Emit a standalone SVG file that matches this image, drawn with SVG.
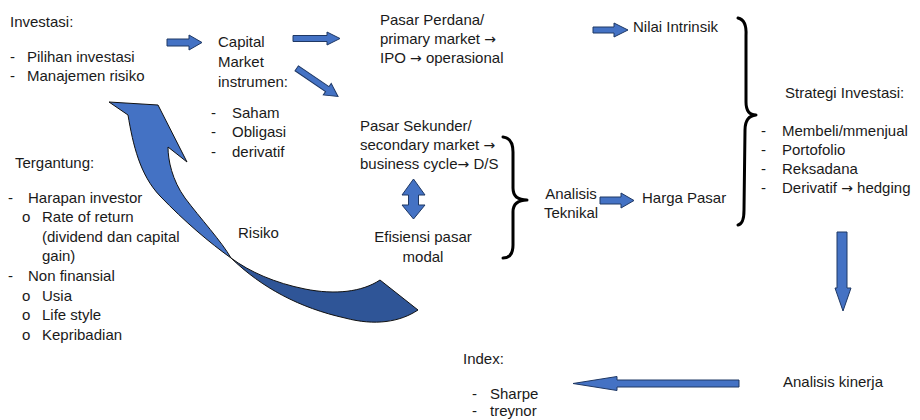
<svg xmlns="http://www.w3.org/2000/svg" width="920" height="420" viewBox="0 0 920 420">
<style>
text{font-family:"Liberation Sans",Arial,sans-serif;font-size:15px;fill:#1a1a1a}
.ar{font-family:"DejaVu Sans",sans-serif;font-size:14px}
.mid{text-anchor:middle}
.blk{fill:#4472C4;stroke:#1F3864;stroke-width:1;stroke-linejoin:miter}
.dark{fill:#2F5597;stroke:#111;stroke-width:1}
.light{fill:#4472C4;stroke:#111;stroke-width:1}
.brace{fill:none;stroke:#000;stroke-width:3;stroke-linecap:round;stroke-linejoin:round}
</style>
<rect width="920" height="420" fill="#fff"/>
<g id="investasi">
<text x="10" y="27">Investasi:</text>
<text x="10" y="62">-</text><text x="27" y="62">Pilihan investasi</text>
<text x="10" y="81">-</text><text x="27" y="81">Manajemen risiko</text>
</g>
<g id="capital-market">
<text x="218" y="47">Capital</text>
<text x="218" y="67">Market</text>
<text x="218" y="87">instrumen:</text>
</g>
<g id="instrumen-list">
<text x="211" y="118">-</text><text x="232" y="118">Saham</text>
<text x="211" y="137">-</text><text x="232" y="137">Obligasi</text>
<text x="211" y="156.5">-</text><text x="232" y="156.5">derivatif</text>
</g>
<g id="pasar-perdana">
<text x="380" y="25">Pasar Perdana/</text>
<text x="380" y="44">primary market <tspan class="ar">→</tspan></text>
<text x="380" y="63">IPO <tspan class="ar">→</tspan> operasional</text>
</g>
<g id="pasar-sekunder">
<text x="360" y="131">Pasar Sekunder/</text>
<text x="360" y="150">secondary market <tspan class="ar">→</tspan></text>
<text x="360" y="169">business cycle<tspan class="ar">→</tspan> D/S</text>
</g>
<g id="efisiensi">
<text class="mid" x="423" y="242">Efisiensi pasar</text>
<text class="mid" x="423" y="261.5">modal</text>
</g>
<g id="analisis-teknikal">
<text class="mid" x="571" y="199">Analisis</text>
<text class="mid" x="571" y="218">Teknikal</text>
</g>
<g id="nilai-intrinsik"><text x="633" y="32">Nilai Intrinsik</text></g>
<g id="harga-pasar"><text x="642" y="203">Harga Pasar</text></g>
<g id="strategi">
<text x="785" y="98">Strategi Investasi:</text>
<text x="761" y="136">-</text><text x="782" y="136">Membeli/mmenjual</text>
<text x="761" y="155">-</text><text x="782" y="155">Portofolio</text>
<text x="761" y="174">-</text><text x="782" y="174">Reksadana</text>
<text x="761" y="193">-</text><text x="782" y="193">Derivatif <tspan class="ar">→</tspan> hedging</text>
</g>
<g id="tergantung">
<text x="15" y="168">Tergantung:</text>
<text x="8" y="202.5">-</text><text x="28" y="202.5">Harapan investor</text>
<text x="22" y="222">o</text><text x="42" y="222">Rate of return</text>
<text x="42" y="242">(dividend dan capital</text>
<text x="42" y="261">gain)</text>
<text x="8" y="281">-</text><text x="28" y="281">Non finansial</text>
<text x="22" y="300.5">o</text><text x="42" y="300.5">Usia</text>
<text x="22" y="320">o</text><text x="42" y="320">Life style</text>
<text x="22" y="339.5">o</text><text x="42" y="339.5">Kepribadian</text>
</g>
<g id="risiko"><text x="238" y="238">Risiko</text></g>
<g id="analisis-kinerja"><text x="783" y="387">Analisis kinerja</text></g>
<g id="index">
<text x="463" y="364">Index:</text>
<text x="472" y="399">-</text><text x="490" y="399">Sharpe</text>
<text x="472" y="416">-</text><text x="490" y="416">treynor</text>
</g>
<g id="connectors">
<polygon class="blk" points="167,39 189,39 189,35 202,42.5 189,50 189,46 167,46"/>
<polygon class="blk" points="293,35.5 327,35.5 327,32 340,38.5 327,45 327,41.5 293,41.5"/>
<polygon class="blk" transform="translate(296.7,68.3) rotate(34.3)" points="0,-3 37,-3 37,-7 50,0 37,7 37,3 0,3"/>
<polygon class="blk" points="593,27 614,27 614,23 628,30 614,37 614,33 593,33"/>
<polygon class="blk" points="600,197 621,197 621,193 634,200.5 621,208 621,204 600,204"/>
<polygon class="blk" points="413.5,179 425,195 418.5,195 418.5,205 425,205 413.5,219 402,205 408.5,205 408.5,195 402,195"/>
<polygon class="blk" points="837,232 847,232 847,288 851,288 843,311 835,288 837,288"/>
<polygon class="blk" points="739,380 617,380 617,376.5 573,383.5 617,390.5 617,387 739,387"/>
<path class="brace" d="M503,137 Q513,138 513,152 L513,188 Q513,200 527,200 Q513,200 513,212 L513,245 Q513,258 503,258"/>
<path class="brace" d="M738,18 Q747,20 746,36 L746,102 Q746,115 756,115 Q745,116 745,130 L744,210 Q744,224 738,225"/>
<path class="dark" d="M231,258 C250,272 275,283 305,289 C335,295 362,292 380,280 L418,310 C400,322 375,326 345,318 C300,308 262,288 231,258 Z"/>
<path class="light" d="M231,258 C222,242 200,218 185,198 C172,180 168,160 168,147 L187,162 L158,105 L109,102 L128,115 C133,145 140,175 160,196 C185,222 210,243 231,258 Z"/>
</g>
</svg>
